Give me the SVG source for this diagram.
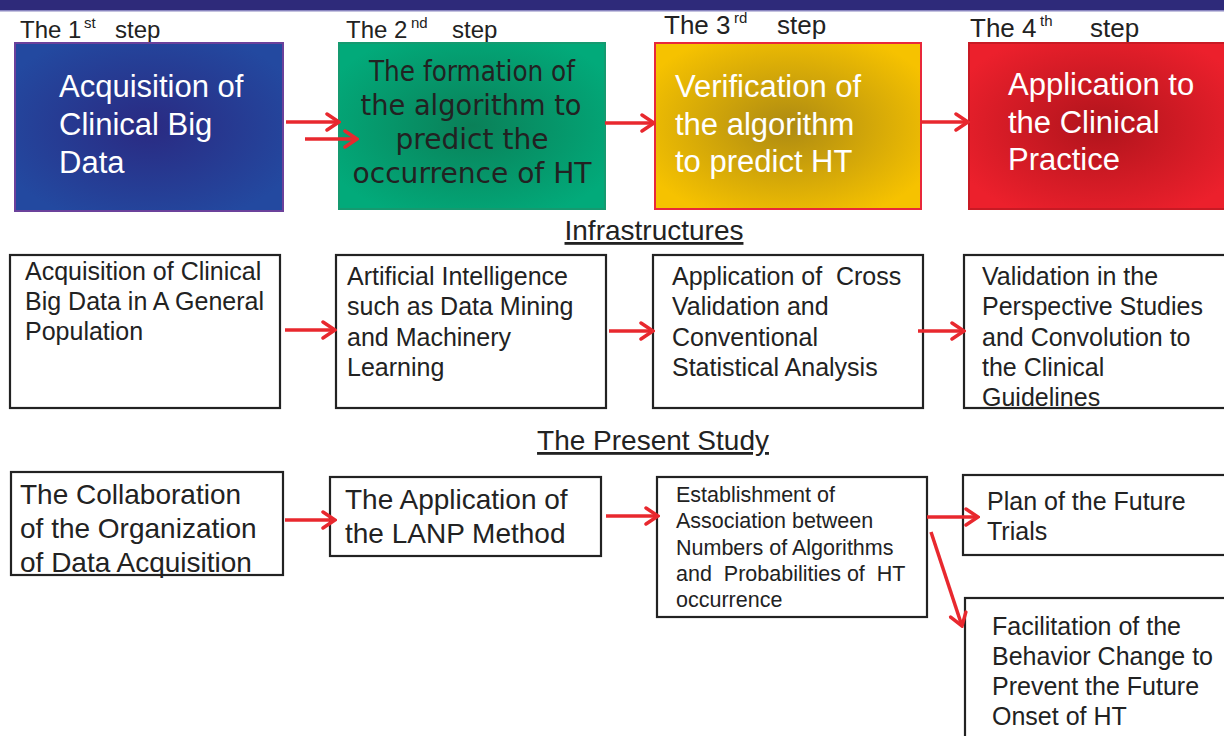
<svg xmlns="http://www.w3.org/2000/svg" width="1224" height="736" viewBox="0 0 1224 736">
<defs>
<radialGradient id="gBlue" cx="0.5" cy="0.5" r="0.6"><stop offset="0" stop-color="#2a2a82"/><stop offset="1" stop-color="#2349a0"/></radialGradient>
<radialGradient id="gGreen" cx="0.5" cy="0.5" r="0.6"><stop offset="0" stop-color="#0a8058"/><stop offset="1" stop-color="#02aa7a"/></radialGradient>
<radialGradient id="gYellow" cx="0.5" cy="0.5" r="0.6"><stop offset="0" stop-color="#ad8a12"/><stop offset="1" stop-color="#f6c200"/></radialGradient>
<radialGradient id="gRed" cx="0.5" cy="0.5" r="0.6"><stop offset="0" stop-color="#b0141c"/><stop offset="1" stop-color="#ec202c"/></radialGradient>
<marker id="ah" viewBox="0 0 16 20" refX="14" refY="10" markerWidth="16" markerHeight="20" markerUnits="userSpaceOnUse" orient="auto"><path d="M2,2 L14,10 L2,18" fill="none" stroke="#e8282e" stroke-width="3.5" stroke-linecap="round" stroke-linejoin="miter"/></marker>
<style>
text{font-family:"Liberation Sans",Arial,sans-serif;}
.step{font-size:24px;fill:#222;}
.stepL{font-size:26px;fill:#222;}
.sup{font-size:15px;fill:#222;}
.big{font-size:31px;fill:#fff;}
.bigd{font-family:"DejaVu Sans",Verdana,sans-serif;font-size:28px;fill:#222;}
.t25{font-size:25px;fill:#222;}
.t28{font-size:28px;fill:#222;}
.t21{font-size:21.5px;fill:#222;}
.hd{font-size:28px;fill:#222;text-decoration:underline;}
.box{fill:#fff;stroke:#222;stroke-width:2.2;}
.arr{fill:none;stroke:#e8282e;stroke-width:3.5;marker-end:url(#ah);}
</style>
</defs>
<rect x="0" y="0" width="1224" height="10" fill="#2e2a7a"/>
<rect x="0" y="10" width="1224" height="1.5" fill="#8a86c0"/>

<g id="labels">
<text class="step" x="20" y="38">The 1</text>
<text class="sup" x="84" y="28">st</text>
<text class="step" x="115" y="38">step</text>
<text class="step" x="346" y="38">The 2</text>
<text class="sup" x="411" y="28">nd</text>
<text class="step" x="452" y="38">step</text>
<text class="stepL" x="664" y="34">The 3</text>
<text class="sup" x="734" y="23">rd</text>
<text class="stepL" x="777" y="34">step</text>
<text class="stepL" x="970" y="37">The 4</text>
<text class="sup" x="1040" y="26">th</text>
<text class="stepL" x="1090" y="37">step</text>
<text class="hd" x="654" y="240" text-anchor="middle">Infrastructures</text>
<text class="hd" x="653" y="450" text-anchor="middle">The Present Study</text>
</g>

<g id="step1">
<rect x="15" y="43" width="268" height="168" fill="url(#gBlue)" stroke="#6b419b" stroke-width="2"/>
<text class="big"><tspan x="59" y="97">Acquisition of</tspan><tspan x="59" y="135">Clinical Big</tspan><tspan x="59" y="173">Data</tspan></text>
</g>
<g id="step2">
<rect x="339" y="43" width="266" height="166" fill="url(#gGreen)" stroke="#159a70" stroke-width="2"/>
<text class="bigd" text-anchor="middle" x="472" y="81" textLength="206" lengthAdjust="spacingAndGlyphs">The formation of</text>
<text class="bigd" text-anchor="middle" x="471" y="115" textLength="221" lengthAdjust="spacingAndGlyphs">the algorithm to</text>
<text class="bigd" text-anchor="middle" x="472" y="149" textLength="153" lengthAdjust="spacingAndGlyphs">predict the</text>
<text class="bigd" text-anchor="middle" x="472" y="183" textLength="239" lengthAdjust="spacingAndGlyphs">occurrence of HT</text>
</g>
<g id="step3">
<rect x="655" y="43" width="266" height="166" fill="url(#gYellow)" stroke="#e8283a" stroke-width="2"/>
<text class="big"><tspan x="675" y="97">Verification of</tspan><tspan x="675" y="135">the algorithm</tspan><tspan x="675" y="172">to predict HT</tspan></text>
</g>
<g id="step4">
<rect x="969" y="43" width="262" height="166" fill="url(#gRed)" stroke="#c81a24" stroke-width="2"/>
<text class="big"><tspan x="1008" y="95">Application to</tspan><tspan x="1008" y="133">the Clinical</tspan><tspan x="1008" y="170">Practice</tspan></text>
</g>

<g id="infra1">
<rect class="box" x="10" y="255" width="270" height="153"/>
<text class="t25"><tspan x="25" y="280">Acquisition of Clinical</tspan><tspan x="25" y="310">Big Data in A General</tspan><tspan x="25" y="340">Population</tspan></text>
</g>
<g id="infra2">
<rect class="box" x="336" y="255" width="270" height="153"/>
<text class="t25"><tspan x="347" y="285">Artificial Intelligence</tspan><tspan x="347" y="315">such as Data Mining</tspan><tspan x="347" y="346">and Machinery</tspan><tspan x="347" y="376">Learning</tspan></text>
</g>
<g id="infra3">
<rect class="box" x="653" y="255" width="270" height="153"/>
<text class="t25" xml:space="preserve"><tspan x="672" y="285">Application of  Cross</tspan><tspan x="672" y="315">Validation and</tspan><tspan x="672" y="346">Conventional</tspan><tspan x="672" y="376">Statistical Analysis</tspan></text>
</g>
<g id="infra4">
<rect class="box" x="964" y="255" width="264" height="153"/>
<text class="t25"><tspan x="982" y="285">Validation in the</tspan><tspan x="982" y="315">Perspective Studies</tspan><tspan x="982" y="346">and Convolution to</tspan><tspan x="982" y="376">the Clinical</tspan><tspan x="982" y="406">Guidelines</tspan></text>
</g>

<g id="study1">
<rect class="box" x="11" y="472" width="272" height="103"/>
<text class="t28"><tspan x="20" y="504">The Collaboration</tspan><tspan x="20" y="538">of the Organization</tspan><tspan x="20" y="572">of Data Acquisition</tspan></text>
</g>
<g id="study2">
<rect class="box" x="330" y="477" width="271" height="79"/>
<text class="t28"><tspan x="345" y="509">The Application of</tspan><tspan x="345" y="543">the LANP Method</tspan></text>
</g>
<g id="study3">
<rect class="box" x="657" y="477" width="270" height="140"/>
<text class="t21" xml:space="preserve"><tspan x="676" y="502">Establishment of</tspan><tspan x="676" y="528">Association between</tspan><tspan x="676" y="555">Numbers of Algorithms</tspan><tspan x="676" y="581">and  Probabilities of  HT</tspan><tspan x="676" y="607">occurrence</tspan></text>
</g>
<g id="study4">
<rect class="box" x="963" y="475" width="265" height="80"/>
<text class="t25"><tspan x="987" y="510">Plan of the Future</tspan><tspan x="987" y="540">Trials</tspan></text>
</g>
<g id="study5">
<rect class="box" x="965" y="598" width="265" height="145"/>
<text class="t25"><tspan x="992" y="635">Facilitation of the</tspan><tspan x="992" y="665">Behavior Change to</tspan><tspan x="992" y="695">Prevent the Future</tspan><tspan x="992" y="725">Onset of HT</tspan></text>
</g>

<g id="connectors">
<line class="arr" x1="286" y1="122" x2="339" y2="122"/>
<line class="arr" x1="305" y1="139" x2="357" y2="139"/>
<line class="arr" x1="605" y1="123" x2="654" y2="123"/>
<line class="arr" x1="921" y1="122" x2="968" y2="122"/>
<line class="arr" x1="285" y1="330" x2="335" y2="330"/>
<line class="arr" x1="609" y1="331" x2="653" y2="331"/>
<line class="arr" x1="918" y1="331" x2="964" y2="331"/>
<line class="arr" x1="285" y1="520" x2="335" y2="520"/>
<line class="arr" x1="606" y1="516" x2="658" y2="516"/>
<line class="arr" x1="927" y1="517" x2="978" y2="517"/>
<line class="arr" x1="931" y1="532" x2="962" y2="626"/>
</g>
</svg>
